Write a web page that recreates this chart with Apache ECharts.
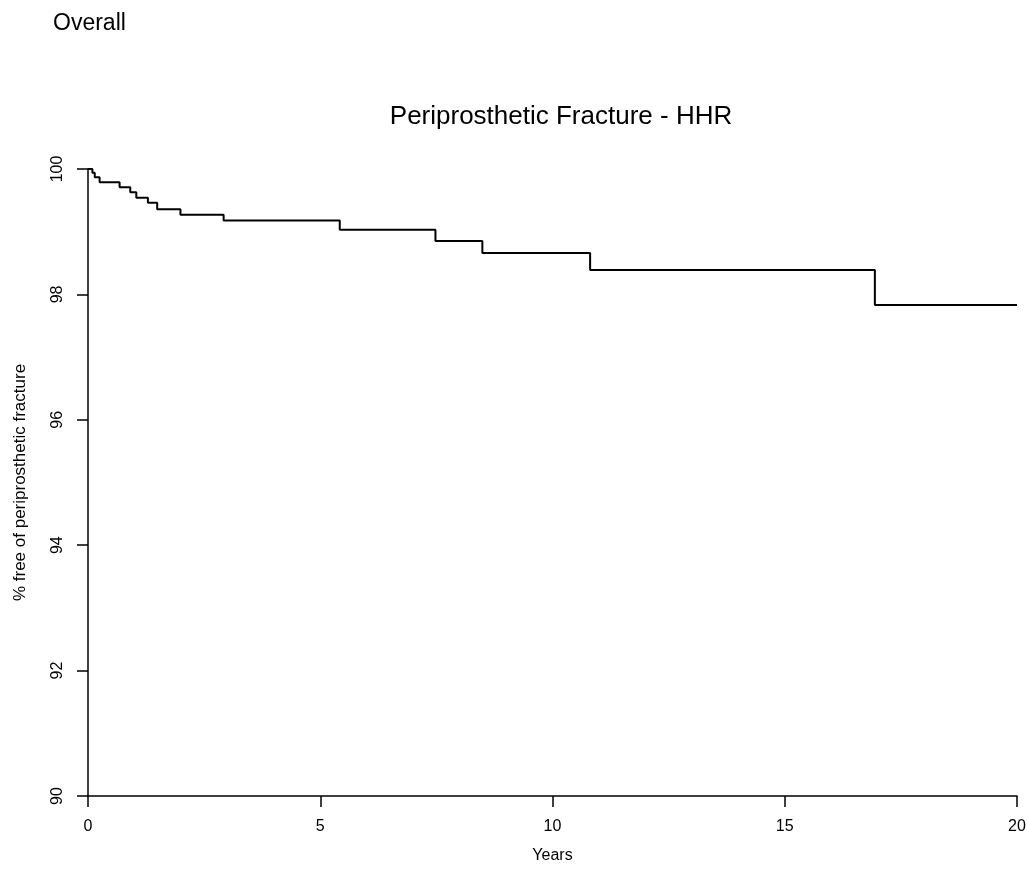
<!DOCTYPE html>
<html>
<head>
<meta charset="utf-8">
<script src="https://cdn.jsdelivr.net/npm/echarts@6/dist/echarts.min.js"></script>
<style>
  html, body { margin: 0; padding: 0; background: #fff; }
  #chart { width: 1028px; height: 876px; }
</style>
</head>
<body>
<div id="chart"></div>
<script>
// Kaplan-Meier step points: time (years) and % free of fracture after that time
const years = [0, 0.095, 0.145, 0.25, 0.68, 0.91, 1.04, 1.29, 1.49, 1.99, 2.92, 5.42, 7.48, 8.49, 10.81, 16.94, 20];
const freePct = [100, 99.94, 99.87, 99.79, 99.71, 99.63, 99.54, 99.46, 99.36, 99.27, 99.18, 99.03, 98.85, 98.66, 98.39, 97.83, 97.83];
const xTicks = [0, 5, 10, 15, 20];
const yTicks = [90, 92, 94, 96, 98, 100];

const font = 'Liberation Sans, Arial, sans-serif';
const chart = echarts.init(document.getElementById('chart'));
chart.setOption({
  backgroundColor: '#fff',
  animation: false,
  title: [
    { text: 'Overall', left: 48, top: 7, textStyle: { fontFamily: font, fontSize: 23, fontWeight: 'normal', color: '#000' } },
    { text: 'Periprosthetic Fracture - HHR', left: 556, top: 99, textAlign: 'center',
      textStyle: { fontFamily: font, fontSize: 26, fontWeight: 'normal', color: '#000' } }
  ],
  grid: { left: 88, right: 11, top: 169, bottom: 80, containLabel: false, outerBoundsMode: 'none' },
  xAxis: {
    type: 'value', min: 0, max: 20, interval: 5,
    name: 'Years', nameLocation: 'middle', nameGap: 52,
    nameTextStyle: { fontFamily: font, fontSize: 16, color: '#000' },
    axisLine: { lineStyle: { color: '#000', width: 1.5 } },
    axisTick: { length: 11, lineStyle: { color: '#000', width: 1.5 } },
    axisLabel: { fontFamily: font, fontSize: 16, color: '#000', margin: 23,
      formatter: v => xTicks.includes(v) ? String(v) : '' },
    splitLine: { show: false }
  },
  yAxis: {
    type: 'value', min: 90, max: 100, interval: 2,
    name: '% free of periprosthetic fracture', nameLocation: 'middle', nameGap: 59,
    nameTextStyle: { fontFamily: font, fontSize: 17, color: '#000' },
    axisLine: { show: true, lineStyle: { color: '#000', width: 1.5 } },
    axisTick: { show: true, length: 11, lineStyle: { color: '#000', width: 1.5 } },
    axisLabel: { fontFamily: font, fontSize: 16, color: '#000', rotate: 90, margin: 22,
      formatter: v => yTicks.includes(v) ? String(v) : '' },
    splitLine: { show: false }
  },
  series: [{
    type: 'line',
    step: 'end',
    data: years.map((t, i) => [t, freePct[i]]),
    symbol: 'none',
    lineStyle: { color: '#000', width: 2 }
  }]
});
</script>
</body>
</html>
